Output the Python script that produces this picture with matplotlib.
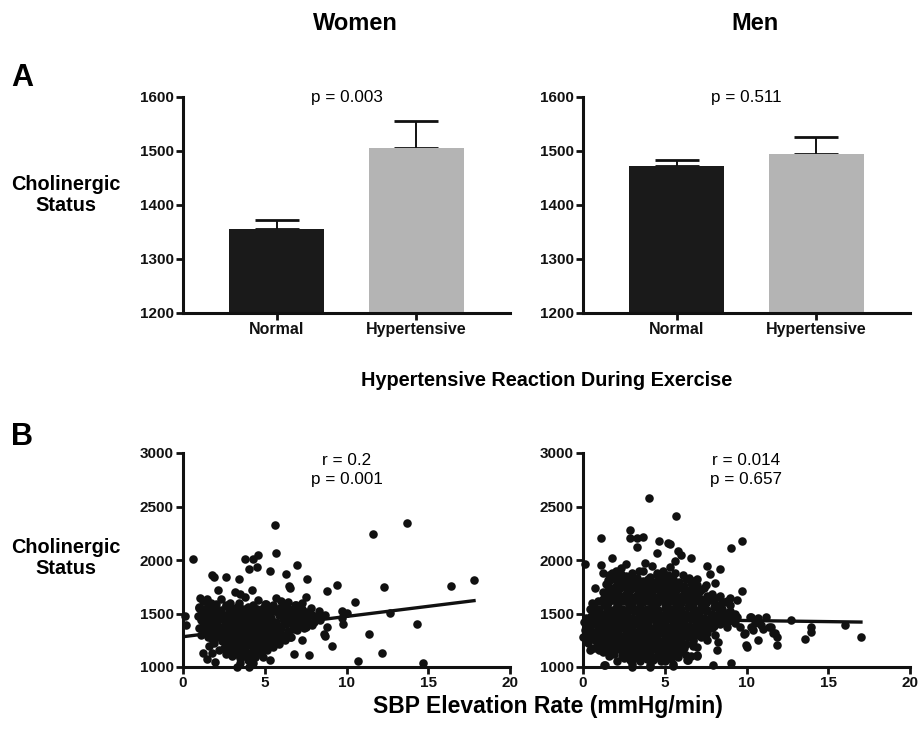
import matplotlib
matplotlib.use('Agg')
import matplotlib.pyplot as plt

plt.rcParams['font.family'] = ['Liberation Sans', 'DejaVu Sans']
plt.rcParams['font.weight'] = 'bold'

# ---- panel A data ----
groups = ['Normal', 'Hypertensive']
women_means = [1356, 1505]
women_err = [17, 50]
men_means = [1472, 1494]
men_err = [11, 31]
bar_colors = ['#1a1a1a', '#b4b4b4']

# ---- panel B data ----
women_x = [
    # outliers
    0.6, 5.6, 13.7, 11.6, 5.7, 4.6, 4.3, 3.8, 4.05, 4.5, 5.3, 6.95, 6.3, 1.75, 1.9,
    2.6, 3.45, 7.6, 6.5, 6.55, 9.4, 8.8, 12.3, 16.4, 17.8, 10.5, 3.2, 3.5, 4.2, 2.15,
    7.55, 6.0, 6.85, 12.65, 14.3, 11.4, 12.15, 10.7, 14.7, 9.1, 7.7, 9.7, 10.0, 9.8,
    8.8, 8.6, 7.25, 6.8, 0.15, 0.2, 1.05, 1.45, 1.0, 1.25, 1.45, 1.75, 1.95, 3.3,
    3.5, 4.05, 4.3, 5.3, 4.9, 4.0, 4.4, 4.8, 5.15, 5.5, 5.9, 6.25, 6.55, 8.7, 9.7,
    # dense part
    1.2, 1.7, 2.3, 2.9, 3.8, 4.6, 5.1, 5.7, 6.4, 7.3,
    1.5, 2.0, 2.6, 3.4, 4.3, 5.0, 5.5, 6.1, 6.9,
    1.0, 1.9, 2.6, 3.3, 4.0, 4.9, 5.4, 6.0, 7.0, 7.8,
    1.2, 1.6, 2.3, 3.0, 3.7, 4.5, 5.2, 5.8, 6.5, 7.3,
    1.3, 2.0, 2.8, 3.5, 4.3, 4.8, 5.6, 6.2, 6.8, 7.5, 8.3,
    1.1, 1.7, 2.4, 3.2, 3.9, 4.6, 5.3, 5.9, 6.5, 7.1, 7.8,
    0.9, 1.6, 2.4, 3.1, 3.7, 4.4, 5.0, 5.9, 6.6, 7.2, 8.0, 8.7,
    1.3, 2.0, 2.7, 3.4, 4.1, 4.7, 5.4, 6.2, 6.9, 7.6, 8.3,
    1.1, 1.8, 2.5, 3.0, 3.6, 4.1, 4.7, 5.3, 6.1, 6.9, 7.6, 8.4,
    1.4, 2.1, 2.8, 3.3, 3.9, 4.4, 5.0, 5.7, 6.5, 7.3, 8.0,
    1.4, 2.1, 2.7, 3.3, 3.9, 4.5, 5.1, 5.6, 6.3, 7.1, 7.9,
    1.2, 1.8, 2.4, 3.0, 3.6, 4.2, 4.8, 5.4, 6.0, 6.7, 7.5,
    1.0, 1.7, 2.3, 3.0, 3.5, 4.2, 4.8, 5.4, 6.0, 6.7, 7.4,
    1.5, 2.2, 2.8, 3.4, 4.0, 4.6, 5.2, 5.8, 6.4, 7.0,
    1.3, 2.0, 2.6, 3.2, 3.8, 4.4, 5.0, 5.7, 6.4,
    1.1, 1.8, 2.4, 3.0, 3.6, 4.2, 4.8, 5.5, 6.2,
    1.5, 2.2, 2.9, 3.4, 4.0, 4.6, 5.2, 5.9, 6.6,
    1.8, 2.6, 3.3, 3.9, 4.5, 5.1, 5.8,
    2.4, 3.1, 3.6, 4.2, 4.9, 5.5,
    1.9, 2.9, 3.5, 4.1, 4.7, 5.3,
    1.6, 2.7, 3.3, 3.9, 4.5, 5.1,
    2.5, 3.2, 3.8, 4.4, 5.0,
    2.2, 3.0, 3.6, 4.3, 4.8,
    2.9, 3.5, 4.0, 4.6,
    2.6, 3.2, 3.8, 4.2,
    3.0, 3.7, 4.4,
    3.5, 4.0,
]
women_y = [
    2012, 2327, 2350, 2243, 2070, 2046, 2006, 2006, 1916, 1937, 1897, 1950, 1866, 1862, 1844,
    1844, 1820, 1824, 1758, 1735, 1763, 1713, 1745, 1760, 1816, 1610, 1702, 1682, 1716, 1720,
    1650, 1614, 1584, 1508, 1399, 1305, 1128, 1056, 1040, 1200, 1112, 1526, 1508, 1400,
    1377, 1305, 1252, 1125, 1480, 1388, 1641, 1640, 1553, 1128, 1078, 1128, 1045, 1003,
    1040, 1003, 1034, 1065, 1097, 1065, 1097, 1128, 1159, 1190, 1215, 1252, 1283, 1290, 1455,
    1618, 1602, 1640, 1596, 1655, 1625, 1592, 1648, 1610, 1597,
    1580, 1586, 1575, 1600, 1578, 1585, 1576, 1582, 1579,
    1562, 1555, 1566, 1558, 1563, 1554, 1565, 1559, 1561, 1556,
    1540, 1546, 1535, 1543, 1538, 1545, 1536, 1542, 1539, 1544,
    1520, 1526, 1514, 1522, 1517, 1525, 1519, 1513, 1524, 1518, 1521,
    1500, 1506, 1495, 1503, 1498, 1505, 1496, 1502, 1499, 1504, 1497,
    1478, 1485, 1474, 1482, 1476, 1486, 1479, 1483, 1475, 1481, 1477, 1484,
    1460, 1466, 1455, 1463, 1458, 1465, 1456, 1462, 1459, 1464, 1457,
    1440, 1446, 1436, 1443, 1438, 1447, 1441, 1435, 1444, 1439, 1442, 1437,
    1420, 1426, 1415, 1423, 1418, 1425, 1416, 1422, 1419, 1424, 1417,
    1400, 1406, 1395, 1403, 1398, 1404, 1396, 1402, 1399, 1405, 1397,
    1380, 1386, 1375, 1383, 1378, 1385, 1376, 1382, 1379, 1384, 1377,
    1360, 1366, 1355, 1362, 1358, 1365, 1357, 1361, 1364, 1356, 1363,
    1340, 1346, 1335, 1343, 1338, 1345, 1336, 1342, 1339, 1344,
    1320, 1326, 1315, 1322, 1318, 1325, 1317, 1321, 1316,
    1300, 1306, 1295, 1303, 1298, 1305, 1296, 1302, 1299,
    1280, 1285, 1276, 1283, 1278, 1286, 1279, 1282, 1277,
    1260, 1266, 1255, 1263, 1258, 1265, 1256,
    1240, 1246, 1235, 1243, 1238, 1245,
    1220, 1226, 1215, 1223, 1218, 1225,
    1200, 1206, 1195, 1203, 1198, 1205,
    1180, 1186, 1175, 1183, 1178,
    1160, 1165, 1156, 1163, 1158,
    1140, 1146, 1135, 1143,
    1120, 1126, 1115, 1122,
    1100, 1106, 1095,
    1080, 1086,
]
women_fit_x = [0, 17.8]
women_fit_y = [1283, 1620]

men_x = [
    # outliers / edge points
    4.05, 5.7, 2.9, 2.85, 3.3, 3.65, 3.3, 1.1, 4.65, 5.2, 5.3, 9.75, 9.05, 4.55, 5.8,
    6.0, 6.6, 0.15, 1.1, 1.75, 1.25, 1.55, 7.6, 8.35, 7.75, 8.1, 7.55, 9.7, 0.75, 0.55,
    0.4, 1.35, 3.0, 4.1, 4.8, 5.5, 6.35, 6.95, 7.95, 9.05, 12.75, 13.95, 13.95, 13.55,
    16.0, 17.0, 11.2, 11.85, 10.7, 10.0, 9.85, 11.0, 11.4, 11.65, 11.85, 10.2, 10.5,
    9.6, 9.4, 10.3, 10.9, 10.3, 10.7, 11.5, 11.75, 9.95, 9.9, 10.4, 9.3, 8.99, 9.39,
    8.68, 8.27, 8.27, 8.17, 6.95, 6.44, 0.05, 0.1, 0.0, 0.3,
    # dense part
    2.0, 2.6, 3.4, 4.2, 4.9, 5.6,
    1.8, 2.3, 3.0, 3.8, 4.5, 5.3,
    1.6, 2.3, 3.0, 3.7, 4.5, 5.2, 6.1,
    2.0, 2.6, 3.3, 4.1, 4.8, 5.6, 6.5,
    1.9, 2.7, 3.3, 4.0, 4.8, 5.5, 6.3, 7.0,
    1.6, 2.3, 3.0, 3.7, 4.4, 5.1, 5.9, 6.7,
    1.4, 2.2, 2.9, 3.6, 4.3, 5.0, 5.8, 6.6,
    2.0, 2.7, 3.4, 4.0, 4.7, 5.4, 6.2, 7.0,
    1.7, 2.5, 3.2, 3.9, 4.6, 5.3, 6.0, 6.8, 7.4,
    1.5, 2.2, 2.9, 3.6, 4.3, 5.0, 5.7, 6.5, 7.2,
    1.2, 2.0, 2.7, 3.4, 4.1, 4.8, 5.6, 6.3, 7.1,
    1.8, 2.6, 3.3, 4.0, 4.7, 5.4, 6.1, 6.9, 7.9,
    1.5, 2.3, 3.0, 3.7, 4.4, 5.1, 5.9, 6.6, 7.6, 8.4,
    1.2, 2.0, 2.8, 3.5, 4.2, 5.0, 5.7, 6.4, 7.2, 8.1,
    0.9, 1.8, 2.5, 3.3, 4.0, 4.7, 5.4, 6.2, 6.9, 7.8, 8.8,
    1.5, 2.2, 3.0, 3.7, 4.5, 5.2, 6.0, 6.7, 7.5, 8.5,
    1.3, 2.1, 2.8, 3.5, 4.2, 5.0, 5.7, 6.5, 7.3, 8.1, 9.0,
    0.7, 1.4, 2.0, 2.8, 3.5, 4.3, 5.0, 5.7, 6.4, 7.2, 8.0,
    0.4, 1.0, 1.7, 2.4, 3.1, 3.9, 4.6, 5.3, 6.0, 6.8, 7.6, 8.5,
    1.0, 1.7, 2.4, 3.1, 3.8, 4.6, 5.3, 6.0, 6.7, 7.5, 8.3, 9.0,
    0.7, 1.4, 2.0, 2.7, 3.4, 4.3, 5.0, 5.6, 6.3, 7.1, 7.9, 8.7, 9.3,
    0.5, 1.4, 2.0, 2.7, 3.4, 4.1, 4.8, 5.5, 6.2, 7.0, 7.8, 8.6,
    0.2, 1.1, 1.7, 2.3, 3.0, 3.8, 4.5, 5.2, 5.9, 6.6, 7.4, 8.2, 9.0,
    0.3, 0.9, 1.7, 2.3, 3.0, 3.7, 4.4, 5.1, 5.9, 6.6, 7.3, 8.1, 8.9,
    0.6, 1.4, 2.0, 2.6, 3.3, 4.0, 4.8, 5.5, 6.2, 6.9, 7.7, 8.5,
    0.6, 1.3, 2.0, 2.7, 3.3, 4.0, 4.8, 5.5, 6.2, 6.9, 7.6, 8.4,
    0.3, 0.9, 1.7, 2.4, 3.0, 3.6, 4.4, 5.1, 5.8, 6.5, 7.2, 8.0, 8.8,
    0.2, 0.9, 1.6, 2.3, 3.0, 3.8, 4.4, 5.1, 5.8, 6.5, 7.2, 7.9,
    0.5, 1.2, 2.0, 2.7, 3.4, 4.1, 4.7, 5.4, 6.1, 6.8, 7.5,
    0.5, 1.2, 1.9, 2.6, 3.3, 4.0, 4.7, 5.4, 6.1, 6.8, 7.6,
    0.2, 0.8, 1.5, 2.2, 2.9, 3.6, 4.4, 5.0, 5.7, 6.4, 7.1, 8.1,
    0.3, 1.0, 1.6, 2.3, 2.9, 3.6, 4.3, 5.0, 5.7, 6.4, 7.2,
    0.6, 1.3, 1.9, 2.6, 3.2, 3.9, 4.6, 5.3, 6.0, 6.7, 7.6,
    0.8, 1.4, 2.0, 2.7, 3.4, 4.0, 4.7, 5.4, 6.0, 6.7,
    1.0, 1.7, 2.3, 3.0, 3.7, 4.3, 5.0, 5.7, 6.3,
    1.2, 1.9, 2.6, 3.3, 4.0, 4.6, 5.3, 6.0, 6.7,
    0.7, 1.5, 2.1, 2.8, 3.4, 4.1, 4.8, 5.5, 6.2, 7.0,
    1.0, 1.6, 2.3, 3.0, 3.6, 4.3, 4.9, 5.6,
    1.2, 1.9, 2.6, 3.2, 3.9, 4.6, 5.2, 6.0,
    1.9, 2.7, 3.4, 4.1, 4.8, 5.5, 6.3,
    1.6, 2.4, 3.0, 3.7, 4.4, 5.1, 5.8, 6.6,
    2.5, 3.2, 3.9, 4.7, 5.4,
    2.1, 2.9, 3.5, 4.3, 5.0,
    1.3, 3.0, 4.1, 5.5,
]
men_y = [
    2576, 2408, 2280, 2202, 2202, 2212, 2118, 2202, 2177, 2156, 2150, 2177, 2109, 2062, 2087,
    2047, 2015, 1963, 1953, 2022, 1875, 1813, 1944, 1913, 1866, 1782, 1766, 1713, 1735, 1595,
    1159, 1019, 1003, 1003, 1059, 1009, 1065, 1103, 1019, 1040, 1436, 1377, 1330, 1259,
    1392, 1283, 1464, 1206, 1252, 1190, 1308, 1352, 1371, 1321, 1283, 1470, 1408,
    1377, 1470, 1377, 1392, 1470, 1455, 1377, 1315, 1205, 1315, 1346, 1408, 1642, 1626,
    1610, 1580, 1237, 1159, 1112, 1065, 1420, 1350, 1280, 1220,
    1898, 1960, 1893, 1945, 1897, 1990,
    1880, 1925, 1875, 1970, 1878, 1930,
    1860, 1866, 1855, 1900, 1857, 1864, 1856,
    1840, 1846, 1835, 1843, 1838, 1880, 1836,
    1820, 1826, 1814, 1822, 1817, 1825, 1818, 1823,
    1800, 1806, 1795, 1803, 1798, 1805, 1796, 1802,
    1780, 1786, 1775, 1783, 1778, 1785, 1777, 1782,
    1760, 1766, 1755, 1763, 1758, 1765, 1756, 1762,
    1740, 1746, 1735, 1743, 1738, 1745, 1736, 1742, 1739,
    1720, 1726, 1715, 1723, 1718, 1725, 1716, 1722, 1719,
    1700, 1706, 1695, 1703, 1698, 1705, 1696, 1702, 1699,
    1680, 1686, 1675, 1683, 1678, 1685, 1676, 1682, 1679,
    1660, 1666, 1655, 1663, 1658, 1665, 1656, 1662, 1659, 1664,
    1640, 1646, 1635, 1643, 1638, 1645, 1636, 1642, 1639, 1644,
    1620, 1626, 1615, 1623, 1618, 1625, 1616, 1622, 1619, 1624, 1617,
    1600, 1606, 1595, 1603, 1598, 1605, 1596, 1602, 1599, 1604,
    1580, 1586, 1575, 1583, 1578, 1585, 1576, 1582, 1579, 1584, 1577,
    1560, 1566, 1555, 1563, 1558, 1565, 1556, 1562, 1559, 1564, 1557,
    1540, 1546, 1535, 1543, 1538, 1545, 1536, 1542, 1539, 1544, 1537, 1541,
    1520, 1526, 1515, 1523, 1518, 1525, 1516, 1522, 1519, 1524, 1517, 1521,
    1500, 1506, 1495, 1503, 1498, 1505, 1496, 1502, 1499, 1504, 1497, 1501, 1494,
    1480, 1486, 1475, 1483, 1478, 1485, 1476, 1482, 1479, 1484, 1477, 1481,
    1460, 1466, 1455, 1463, 1458, 1465, 1456, 1462, 1459, 1464, 1457, 1461, 1454,
    1440, 1446, 1435, 1443, 1438, 1445, 1436, 1442, 1439, 1444, 1437, 1441, 1434,
    1420, 1426, 1415, 1423, 1418, 1425, 1416, 1422, 1419, 1424, 1417, 1421,
    1400, 1406, 1395, 1403, 1398, 1405, 1396, 1402, 1399, 1404, 1397, 1401,
    1380, 1386, 1375, 1383, 1378, 1385, 1376, 1382, 1379, 1384, 1377, 1381, 1374,
    1360, 1366, 1355, 1363, 1358, 1365, 1356, 1362, 1359, 1364, 1357, 1361,
    1340, 1346, 1335, 1343, 1338, 1345, 1336, 1342, 1339, 1344, 1337,
    1320, 1326, 1315, 1323, 1318, 1325, 1316, 1322, 1319, 1324, 1317,
    1300, 1306, 1295, 1303, 1298, 1305, 1296, 1302, 1299, 1304, 1297, 1301,
    1280, 1286, 1275, 1283, 1278, 1285, 1276, 1282, 1279, 1284, 1277,
    1260, 1266, 1255, 1263, 1258, 1265, 1256, 1262, 1259, 1264, 1257,
    1240, 1246, 1235, 1243, 1238, 1245, 1236, 1242, 1239, 1244,
    1220, 1226, 1215, 1223, 1218, 1225, 1216, 1222, 1219,
    1200, 1206, 1195, 1203, 1198, 1205, 1196, 1202, 1199,
    1180, 1186, 1175, 1183, 1178, 1185, 1176, 1182, 1179, 1184,
    1160, 1166, 1155, 1163, 1158, 1165, 1156, 1162,
    1140, 1146, 1135, 1143, 1138, 1145, 1136, 1142,
    1120, 1126, 1115, 1123, 1118, 1125, 1116,
    1100, 1106, 1095, 1103, 1098, 1105, 1096, 1102,
    1080, 1086, 1075, 1083, 1078,
    1060, 1066, 1055, 1063, 1058,
    1022, 1030, 1018, 1026,
]
men_fit_x = [0, 17.0]
men_fit_y = [1455, 1420]

W, H = 919, 743
fig = plt.figure(figsize=(W / 100, H / 100), dpi=100)


def frac(left, top, right, bottom):
    return [left / W, 1 - bottom / H, (right - left) / W, (bottom - top) / H]


def style_axes(ax):
    for s in ['top', 'right']:
        ax.spines[s].set_visible(False)
    for s in ['left', 'bottom']:
        ax.spines[s].set_linewidth(2.2)
        ax.spines[s].set_color('#111111')
    ax.tick_params(width=2.0, length=5, labelsize=11, colors='#111111', pad=1.5)
    for lab in ax.get_xticklabels() + ax.get_yticklabels():
        lab.set_fontweight('bold')


def bar_panel(ax, means, errs, ptext):
    xs = [0, 1]
    ax.bar(xs, [m - 1200 for m in means], bottom=1200, width=0.68, color=bar_colors, zorder=2)
    ax.errorbar(xs, means, yerr=[[0, 0], errs], fmt='none', ecolor='#111111',
                elinewidth=1.4, capsize=16, capthick=2.0, zorder=1)
    ax.set_xlim(-0.67, 1.67)
    ax.set_ylim(1200, 1600)
    ax.set_yticks([1200, 1300, 1400, 1500, 1600])
    ax.set_xticks(xs)
    ax.set_xticklabels(groups)
    style_axes(ax)
    ax.tick_params(axis='x', labelsize=11.5)
    ax.text(0.5, 1.0, ptext, transform=ax.transAxes, ha='center', va='center',
            fontsize=12.3, fontweight='normal')


def scatter_panel(ax, xs, ys, fx, fy, rtext):
    ax.scatter(xs, ys, s=38, color='#111111', linewidths=0, clip_on=False, zorder=2)
    ax.plot(fx, fy, color='#111111', linewidth=2.4, zorder=3)
    ax.set_xlim(0, 20)
    ax.set_ylim(1000, 3000)
    ax.set_xticks([0, 5, 10, 15, 20])
    ax.set_yticks([1000, 1500, 2000, 2500, 3000])
    style_axes(ax)
    ax.text(0.5, 1.0, rtext, transform=ax.transAxes, ha='center', va='top',
            fontsize=12.3, fontweight='normal', linespacing=1.3)


ax1 = fig.add_axes(frac(183, 97, 510, 313))
bar_panel(ax1, women_means, women_err, 'p = 0.003')
ax2 = fig.add_axes(frac(583, 97, 910, 313))
bar_panel(ax2, men_means, men_err, 'p = 0.511')

ax3 = fig.add_axes(frac(183, 453, 510, 667))
scatter_panel(ax3, women_x, women_y, women_fit_x, women_fit_y, 'r = 0.2\np = 0.001')
ax4 = fig.add_axes(frac(583, 453, 910, 667))
scatter_panel(ax4, men_x, men_y, men_fit_x, men_fit_y, 'r = 0.014\np = 0.657')

# titles and labels
fig.text(355 / W, 1 - 23 / H, 'Women', ha='center', va='center', fontsize=17, fontweight='bold')
fig.text(755 / W, 1 - 23 / H, 'Men', ha='center', va='center', fontsize=17, fontweight='bold')
fig.text(11 / W, 1 - 78 / H, 'A', ha='left', va='center', fontsize=22, fontweight='bold')
fig.text(11 / W, 1 - 437 / H, 'B', ha='left', va='center', fontsize=22, fontweight='bold')
fig.text(66 / W, 1 - 195 / H, 'Cholinergic\nStatus', ha='center', va='center',
         fontsize=14.3, fontweight='bold', linespacing=1.15)
fig.text(66 / W, 1 - 558 / H, 'Cholinergic\nStatus', ha='center', va='center',
         fontsize=14.3, fontweight='bold', linespacing=1.15)
fig.text(547 / W, 1 - 380 / H, 'Hypertensive Reaction During Exercise', ha='center',
         va='center', fontsize=14.3, fontweight='bold')
fig.text(548 / W, 1 - 706 / H, 'SBP Elevation Rate (mmHg/min)', ha='center',
         va='center', fontsize=16.5, fontweight='bold')

fig.savefig('out.png', dpi=100)
